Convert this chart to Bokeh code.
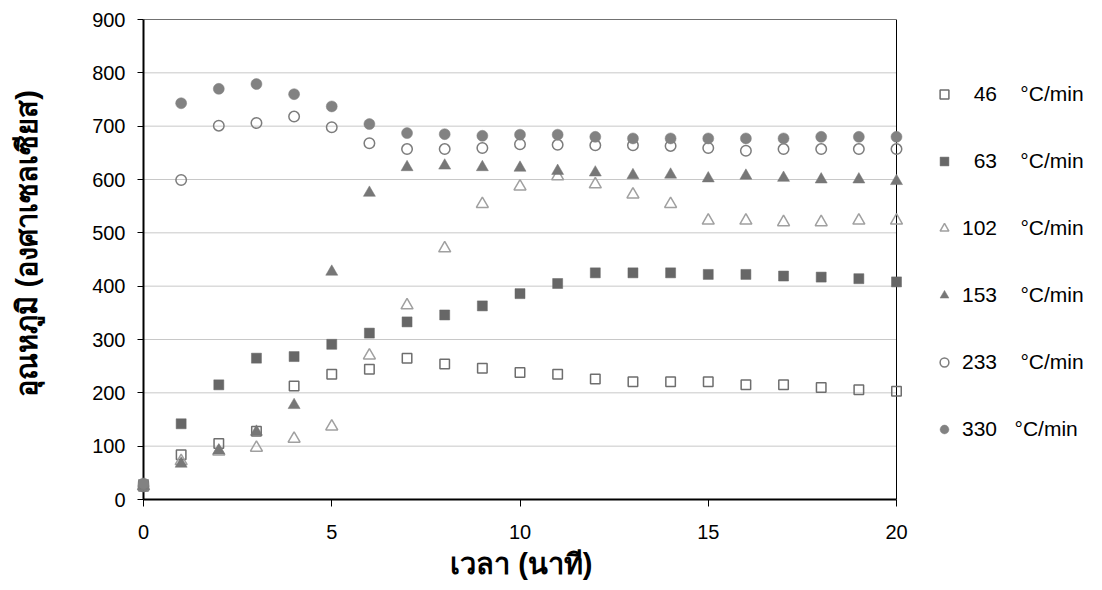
from bokeh.plotting import figure
from bokeh.models import Range1d, Legend, LegendItem, FixedTicker
from bokeh.embed import file_html
from bokeh.resources import INLINE

# ---- data ----
time_min = list(range(0, 21))
s46 = [25, 84, 105, 128, 213, 235, 244, 265, 254, 246, 238, 235, 226, 221, 221, 221, 215, 215, 210, 206, 203]
s63 = [28, 142, 215, 265, 268, 291, 312, 333, 346, 363, 386, 405, 425, 425, 425, 422, 422, 419, 417, 414, 408]
s102 = [25, 72, 90, 97, 114, 137, 270, 364, 471, 554, 587, 606, 591, 572, 554, 523, 523, 520, 520, 523, 523]
s153 = [25, 67, 92, 127, 177, 427, 575, 623, 626, 623, 622, 616, 613, 608, 609, 602, 607, 603, 600, 600, 597]
s233 = [25, 599, 701, 706, 718, 698, 668, 657, 657, 659, 666, 665, 664, 664, 663, 659, 654, 657, 657, 657, 657]
s330 = [30, 743, 770, 779, 760, 737, 704, 687, 685, 682, 684, 684, 680, 677, 677, 677, 677, 677, 680, 680, 680]
NB = "\u00a0"
legend_labels = [NB * 2 + "46" + NB * 4 + "°C/min",
                 NB * 2 + "63" + NB * 4 + "°C/min",
                 "102" + NB * 4 + "°C/min",
                 "153" + NB * 4 + "°C/min",
                 "233" + NB * 4 + "°C/min",
                 "330" + NB * 3 + "°C/min"]
x_ticks = [0, 5, 10, 15, 20]
y_ticks = [0, 100, 200, 300, 400, 500, 600, 700, 800, 900]
x_title = "เวลา (นาที)"
y_title = "อุณหภูมิ (องศาเซลเซียส)"

FONT = "Liberation Sans"

# layout geometry (pixels)
W, H = 1100, 588
LEFT, TOP, BOTTOM = 143, 19, 89
AXIS_PX = 753                      # width of the 0..20 axis
x_min, x_max = x_ticks[0], x_ticks[-1]
y_min, y_max = y_ticks[0], y_ticks[-1]
frame_w = W - LEFT
x_end = x_min + (x_max - x_min) * frame_w / AXIS_PX

p = figure(width=W, height=H, output_backend="svg", toolbar_location=None,
           x_range=Range1d(x_min, x_end), y_range=Range1d(y_min, y_max),
           min_border_left=LEFT, min_border_right=0, min_border_top=TOP, min_border_bottom=BOTTOM)

p.outline_line_color = None
p.background_fill_color = "white"
p.border_fill_color = "white"
p.xgrid.visible = False
p.ygrid.visible = False

# horizontal gridlines limited to the plot area
p.segment(x0=[x_min] * len(y_ticks), x1=[x_max] * len(y_ticks), y0=y_ticks, y1=y_ticks,
          line_color="#c8c8c8", line_width=1, level="underlay")
# top and right border of the plot area
p.segment(x0=[x_min, x_max], x1=[x_max, x_max], y0=[y_max, y_min], y1=[y_max, y_max],
          line_color="black", line_width=1, level="underlay")

p.xaxis.ticker = FixedTicker(ticks=x_ticks)
p.yaxis.ticker = FixedTicker(ticks=y_ticks)
p.xaxis.bounds = (x_min, x_max)
for ax in (p.xaxis[0], p.yaxis[0]):
    ax.axis_line_color = "black"
    ax.axis_line_width = 2
    ax.major_tick_line_color = "black"
    ax.major_tick_line_width = 1
    ax.major_tick_in = 0
    ax.minor_tick_line_color = None
    ax.major_label_text_font = FONT
    ax.major_label_text_font_size = "20px"
    ax.major_label_text_color = "black"
    ax.axis_label_text_font = FONT
    ax.axis_label_text_font_size = "29px"
    ax.axis_label_text_font_style = "bold"
    ax.axis_label_text_color = "black"

p.yaxis.major_tick_out = 6
p.yaxis.major_label_standoff = 12
# leading spaces shift the rotated title upwards, as in the reference
p.yaxis.axis_label = NB * 4 + y_title
p.yaxis.axis_label_standoff = 46

p.xaxis.major_tick_out = 7
p.xaxis.major_label_standoff = 18
# trailing spaces keep the title centred under the 0..20 axis rather than the whole frame
p.xaxis.axis_label = x_title + NB * 25
p.xaxis.axis_label_standoff = 6

lvl = "overlay"
r46 = p.scatter(time_min, s46, marker="square", size=9.5, fill_color=None,
                line_color="#6e6e6e", line_width=1.5, level=lvl)
r63 = p.scatter(time_min, s63, marker="square", size=10, fill_color="#676767",
                line_color="#676767", line_width=0.5, level=lvl)
r102 = p.scatter(time_min, s102, marker="triangle", size=12, fill_color=None,
                 line_color="#a0a0a0", line_width=1.5, level=lvl)
r153 = p.scatter(time_min, s153, marker="triangle", size=12, fill_color="#777777",
                 line_color="#777777", line_width=0.5, level=lvl)
r233 = p.scatter(time_min, s233, marker="circle", size=10.5, fill_color=None,
                 line_color="#7c7c7c", line_width=1.5, level=lvl)
r330 = p.scatter(time_min, s330, marker="circle", size=11, fill_color="#828282",
                 line_color="#828282", line_width=0.5, level=lvl)

renderers = [r46, r63, r102, r153, r233, r330]
legend = Legend(items=[LegendItem(label=l, renderers=[r]) for l, r in zip(legend_labels, renderers)],
                location=(790, 58), orientation="vertical",
                glyph_width=22, glyph_height=22, label_height=22, spacing=43,
                padding=5, margin=0, label_standoff=7,
                label_text_font=FONT, label_text_font_size="21px", label_text_color="black",
                border_line_color=None, background_fill_alpha=0)
p.add_layout(legend, "center")

open("out.html", "w").write(file_html(p, INLINE))
